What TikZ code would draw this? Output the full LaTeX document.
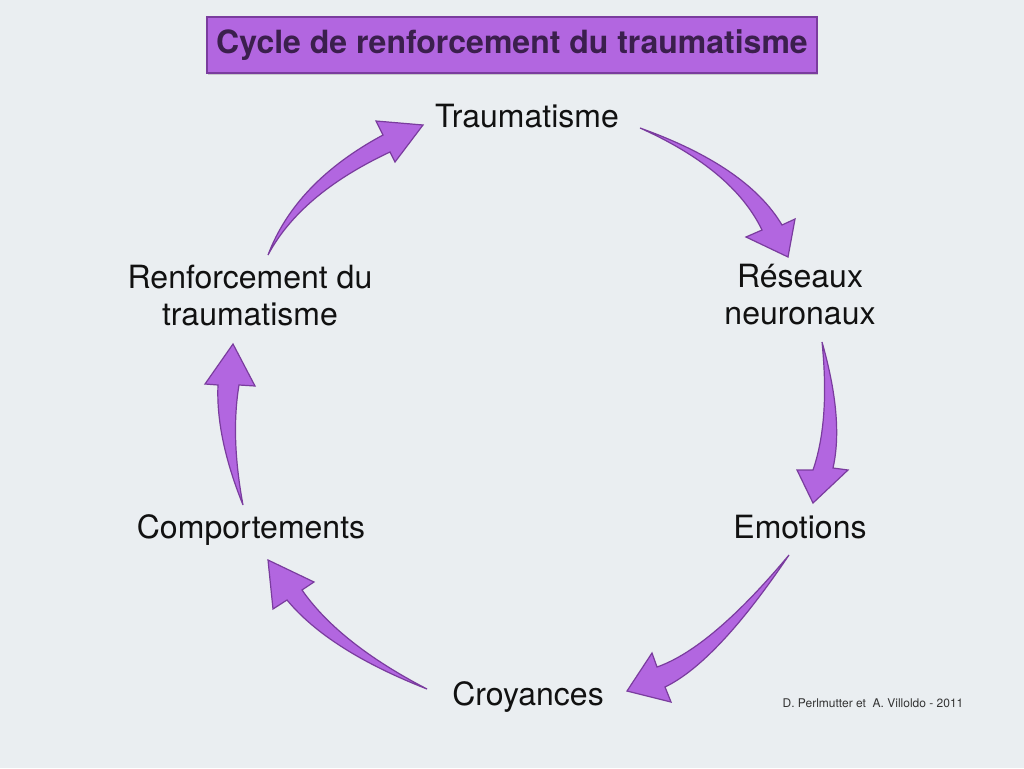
\documentclass[tikz,border=0pt]{standalone}
\usepackage{fontspec}
\setmainfont{TeX Gyre Heros}
\usetikzlibrary{calc,shadows}
\definecolor{cyclebg}{HTML}{EAEEF1}
\definecolor{cyclefill}{HTML}{B266E0}
\definecolor{cycleedge}{HTML}{7A3C9E}
\definecolor{cycleink}{HTML}{3B1F4D}
\definecolor{cycletext}{HTML}{111111}
\definecolor{cyclemute}{HTML}{333333}
\tikzset{
  stage/.style={font=\fontsize{32}{37}\selectfont, text=cycletext, align=center, inner sep=0pt},
  fatarr/.style={fill=cyclefill, draw=cycleedge, line width=1.2pt, line join=miter},
  ttl/.style={fill=cyclefill, draw=cycleedge, line width=2pt, font=\fontsize{32}{36}\selectfont\bfseries, text=cycleink, minimum width=610pt, minimum height=56pt, drop shadow={opacity=0.35, shadow xshift=1pt, shadow yshift=-2pt}},
  lbl/.style={font=\fontsize{12}{14}\selectfont, text=cyclemute, inner sep=0pt},
}
% tail, bend, shoulder, wing, tip, wing, shoulder
\newcommand\fatarrow[7]{%
  \path coordinate (ka) at ($(#2)+0.35*(#3)-0.35*(#7)$)
        coordinate (kb) at ($(#2)-0.35*(#3)+0.35*(#7)$);
  \draw[fatarr] (#1) .. controls ($(#1)!0.667!(ka)$) and ($(#3)!0.667!(ka)$) .. (#3)
    -- (#4) -- (#5) -- (#6) -- (#7)
    .. controls ($(#7)!0.667!(kb)$) and ($(#1)!0.667!(kb)$) .. (#1) -- cycle;}

\begin{document}
\begin{tikzpicture}[x=1pt, y=-1pt]
    \fill[cyclebg] (0,0) rectangle (1024,768);
    \node[ttl] (title) at (512,45) {Cycle de renforcement du traumatisme};
    \node[stage, anchor=base] (tr) at (527,127) {Traumatisme};
    \node[stage] (rn) at (800,295) {Réseaux\\neuronaux};
    \node[stage, anchor=base] (em) at (800,538) {Emotions};
    \node[stage, anchor=base] (cr) at (528,705) {Croyances};
    \node[stage, anchor=base] (co) at (251,538) {Comportements};
    \node[stage] (rf) at (250,296) {Renforcement du\\traumatisme};
    \fatarrow{268,255}{298,188}{383,135}{376,121}{423,125}{395,162}{390,152}
    \fatarrow{640,128}{740,168}{782,225}{795,219}{788,257}{746,237}{762,230}
    \fatarrow{822,342}{837,420}{833,468}{848,470}{813,503}{797,470}{813,470}
    \fatarrow{789,555}{714,655}{665,687}{671,702}{627,691}{652,653}{657,667}
    \fatarrow{427,689}{334,647}{287,600}{273,609}{268,560}{314,582}{302,590}
    \fatarrow{243,505}{223,437}{218,385}{205,384}{233,344}{255,386}{239,385}
    \node[lbl, anchor=base] (src) at (873,707) {D. Perlmutter et\ \ A. Villoldo - 2011};
  \end{tikzpicture}
\end{document}
